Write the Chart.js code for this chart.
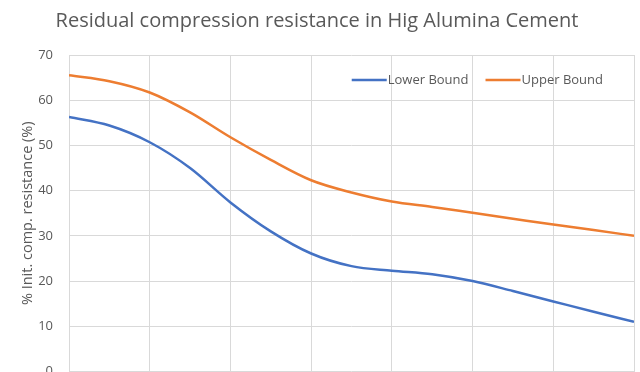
<!DOCTYPE html>
<html>
<head>
<meta charset="utf-8">
<script src="https://cdn.jsdelivr.net/npm/chart.js@4/dist/chart.umd.min.js"></script>
<style>
  html, body { margin: 0; padding: 0; background: #ffffff; overflow: hidden; width: 640px; height: 372px; }
  #wrap { width: 640px; height: 372px; overflow: hidden; }
  canvas { display: block; }
</style>
</head>
<body>
<div id="wrap"><canvas id="chart" width="640" height="400"></canvas></div>
<script>
// Sampling positions along the horizontal axis (half-steps between grid lines)
const xPositions = [0, 0.5, 1, 1.5, 2, 2.5, 3, 3.5, 4, 4.5, 5, 5.5, 6, 6.5, 7];

// Residual compression resistance, % of initial value
const lowerBound = [56.3, 54.4, 50.7, 45.0, 37.4, 31.0, 26.1, 23.3, 22.3, 21.5, 20.0, 17.8, 15.5, 13.2, 11.0];
const upperBound = [65.5, 64.2, 61.7, 57.3, 51.8, 46.8, 42.3, 39.6, 37.6, 36.4, 35.1, 33.8, 32.5, 31.3, 30.0];

const seriesNames = ['Lower Bound', 'Upper Bound'];
const seriesColors = ['#4472C4', '#ED7D31'];

const yTicks = [0, 10, 20, 30, 40, 50, 60, 70];

const titleText = 'Residual compression resistance in Hig Alumina Cement';
const yAxisTitle = '% Init. comp. resistance (%)';

const FONT = "'Open Sans', 'DejaVu Sans', sans-serif";
const TEXT = '#595959';
const GRID = '#d9d9d9';

const toPoints = (vals) => vals.map((v, i) => ({ x: xPositions[i], y: v }));

// Line-sample legend drawn inside the plot area, top right
const insideLegend = {
  id: 'insideLegend',
  afterDraw(chart) {
    const ctx = chart.ctx;
    const area = chart.chartArea;
    ctx.save();
    ctx.font = '13px ' + FONT;
    ctx.textBaseline = 'middle';
    const lineLen = 35, textGap = 1, itemGap = 17;
    const items = chart.data.datasets.map(ds => ({
      label: ds.label, color: ds.borderColor, w: lineLen + textGap + ctx.measureText(ds.label).width
    }));
    const total = items.reduce((s, it) => s + it.w, 0) + itemGap * (items.length - 1);
    let x = area.right - 31 - total;
    const y = area.top + 25;
    items.forEach(it => {
      ctx.strokeStyle = it.color;
      ctx.lineWidth = 2.5;
      ctx.beginPath();
      ctx.moveTo(x, y);
      ctx.lineTo(x + lineLen, y);
      ctx.stroke();
      ctx.fillStyle = TEXT;
      ctx.fillText(it.label, x + lineLen + textGap, y);
      x += it.w + itemGap;
    });
    ctx.restore();
  }
};

new Chart(document.getElementById('chart'), {
  type: 'line',
  data: {
    datasets: [
      { label: seriesNames[0], data: toPoints(lowerBound), borderColor: seriesColors[0], backgroundColor: seriesColors[0] },
      { label: seriesNames[1], data: toPoints(upperBound), borderColor: seriesColors[1], backgroundColor: seriesColors[1] }
    ]
  },
  options: {
    responsive: false,
    animation: false,
    devicePixelRatio: 1,
    layout: { padding: { left: 0, right: 6, top: 0, bottom: 28.5 } },
    elements: {
      line: { borderWidth: 2.5, tension: 0.4, cubicInterpolationMode: 'monotone' },
      point: { radius: 0 }
    },
    plugins: {
      legend: { display: false },
      tooltip: { enabled: false },
      title: {
        display: true,
        text: titleText,
        color: TEXT,
        font: { family: FONT, size: 20, weight: 'normal' },
        padding: { top: 9, bottom: 22 }
      }
    },
    scales: {
      x: {
        type: 'linear',
        min: 0,
        max: 7,
        ticks: { display: false, stepSize: 1 },
        grid: { color: GRID, drawTicks: false },
        border: { display: false }
      },
      y: {
        min: 0,
        max: 70,
        afterBuildTicks(scale) { scale.ticks = yTicks.map(v => ({ value: v })); },
        afterFit(scale) { scale.width = 69; },
        ticks: { color: TEXT, font: { family: FONT, size: 13 }, padding: 16 },
        grid: { color: GRID, drawTicks: false },
        border: { display: false },
        title: {
          display: true,
          text: yAxisTitle,
          color: TEXT,
          font: { family: FONT, size: 14.5 },
          padding: { top: 19, bottom: 0 }
        }
      }
    }
  },
  plugins: [insideLegend]
});
</script>
</body>
</html>
